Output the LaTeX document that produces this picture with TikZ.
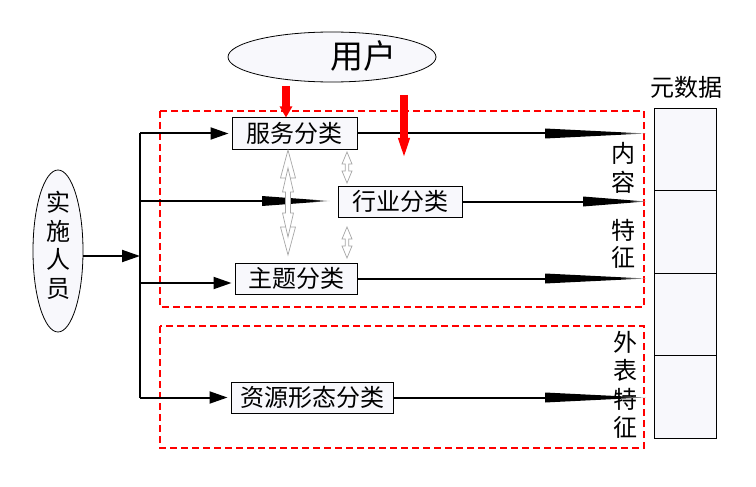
\documentclass[tikz,border=0pt]{standalone}
\usepackage{fontspec}
\setmainfont{Noto Sans CJK SC}
\usetikzlibrary{arrows.meta,calc,shapes.geometric}
\definecolor{boxfill}{HTML}{F8F8FC}
\pgfdeclarehorizontalshading{taperfade}{100bp}{color(0bp)=(black); color(25bp)=(black);
    color(62bp)=(black); color(75bp)=(black!20); color(100bp)=(black!20)}

% tapered wedge: start point, tip, half height
\newcommand{\taper}[3]{%
    \shade[shading=taperfade]
        ($(#1)+(0,-#3)$) -- (#2) -- ($(#1)+(0,#3)$) -- cycle;}
% hollow double arrow: x, top, bottom, head half width, head length, shaft half width
\newcommand{\dblhollow}[6]{%
    \filldraw[hollow]
        (#1,#2) -- ({#1+#4},{#2+#5}) -- ({#1+#6},{#2+#5})
        -- ({#1+#6},{#3-#5}) -- ({#1+#4},{#3-#5}) -- (#1,#3)
        -- ({#1-#4},{#3-#5}) -- ({#1-#6},{#3-#5})
        -- ({#1-#6},{#2+#5}) -- ({#1-#4},{#2+#5}) -- cycle;}

\begin{document}
\begin{tikzpicture}[x=1pt,y=-1pt,
    catbox/.style={draw,fill=boxfill,line width=1pt,inner sep=0pt,
        minimum height=31pt,font=\fontsize{24}{24}\selectfont},
    frame/.style={red,line width=1.6pt,dash pattern=on 7pt off 4pt},
    link/.style={line width=2pt},
    feed/.style={link,-{Triangle[length=18pt,width=12pt]},shorten >=3pt},
    redarrow/.style={red,line width=7.5pt},
    vtext/.style={align=center,inner sep=0pt,font=\fontsize{24}{28.5}\selectfont},
    hollow/.style={draw=gray!70,fill=white,line width=.7pt},
    cell/.style={draw,fill=boxfill,line width=.8pt,minimum width=62pt,minimum height=82.5pt,inner sep=0pt},
]
    \useasboundingbox (0,0) rectangle (756,487);

    % frames
    \draw[frame] (160,111) rectangle (644,307);
    \draw[frame] (160,326) rectangle (644,448);

    % users and staff
    \node[ellipse,draw,fill=boxfill,line width=.8pt,minimum width=208pt,minimum height=50pt] (user) at (332,57) {};
    \node[font=\fontsize{33}{33}\selectfont] (usertext) at (363,56) {用户};
    \node[ellipse,draw,fill=boxfill,line width=.8pt,minimum width=50pt,minimum height=162pt] (staff) at (58,251) {};
    \node[vtext] (stafftext) at (58,245.5) {实\\施\\人\\员};

    % categories
    \node[catbox,minimum width=125pt] (fuwu) at (294.5,133.5) {服务分类};
    \node[catbox,minimum width=124pt] (hangye) at (400,201.5) {行业分类};
    \node[catbox,minimum width=122pt] (zhuti) at (296,278.5) {主题分类};
    \node[catbox,minimum width=162pt] (ziyuan) at (312,397.5) {资源形态分类};

    % metadata column
    \node[font=\fontsize{24}{24}\selectfont] (meta) at (686,87) {元数据};
    \foreach \i/\y in {1/150,2/232,3/314.5,4/397}
        \node[cell] (cell\i) at (685,\y) {};

    \node[vtext,font=\fontsize{24}{29}\selectfont] (content) at (623,167.5) {内\\容};
    \node[vtext,font=\fontsize{24}{27}\selectfont] (feature) at (623,243.5) {特\\征};
    \node[vtext,font=\fontsize{24}{28.5}\selectfont] (surface) at (625,385) {外\\表\\特\\征};

    % spine from staff
    \coordinate (join) at (140,256);
    \coordinate (s1) at (140,133.5);
    \coordinate (s2) at (140,201);
    \coordinate (s3) at (140,283);
    \coordinate (s4) at (140,397.5);
    \draw[link] (s1) -- (s4);
    \draw[feed,shorten >=0pt] (staff.east |- join) -- (join);
    \draw[feed] (s1) -- (fuwu.west);
    \draw[feed] (s3) -- (zhuti.west |- s3);
    \draw[feed] (s4) -- (ziyuan.west);
    \coordinate (w0) at (262,201);
    \coordinate (w0tip) at (330,201);
    \draw[link] (s2) -- (w0);
    \taper{w0}{w0tip}{5}

    % outputs to the right
    \foreach \n/\src/\x in {1/fuwu/545,2/hangye/583,3/zhuti/545,4/ziyuan/545}{
        \coordinate (w\n) at (\x,0 |- \src.east);
        \coordinate (o\n) at (646,0 |- \src.east);
        \draw[link] (\src.east) -- (w\n);
        \taper{w\n}{o\n}{5}
    }

    % hollow double arrows
    \dblhollow{288}{150}{255}{7.5}{28}{2.5}
    \dblhollow{288}{168}{237}{5.5}{24}{2.5}
    \dblhollow{347}{152}{183}{5}{12}{1.8}
    \dblhollow{347}{227}{258}{5}{12}{1.8}

    % user input
    \coordinate (u1) at (286,86);
    \coordinate (u2) at (404,95);
    \coordinate (u2tip) at (404,160);
    \draw[redarrow,-{Triangle[length=11pt,width=12pt]}] (u1) -- (u1 |- fuwu.north);
    \draw[redarrow,-{Triangle[length=22pt,width=10pt]}] (u2) -- (u2tip);
\end{tikzpicture}
\end{document}
